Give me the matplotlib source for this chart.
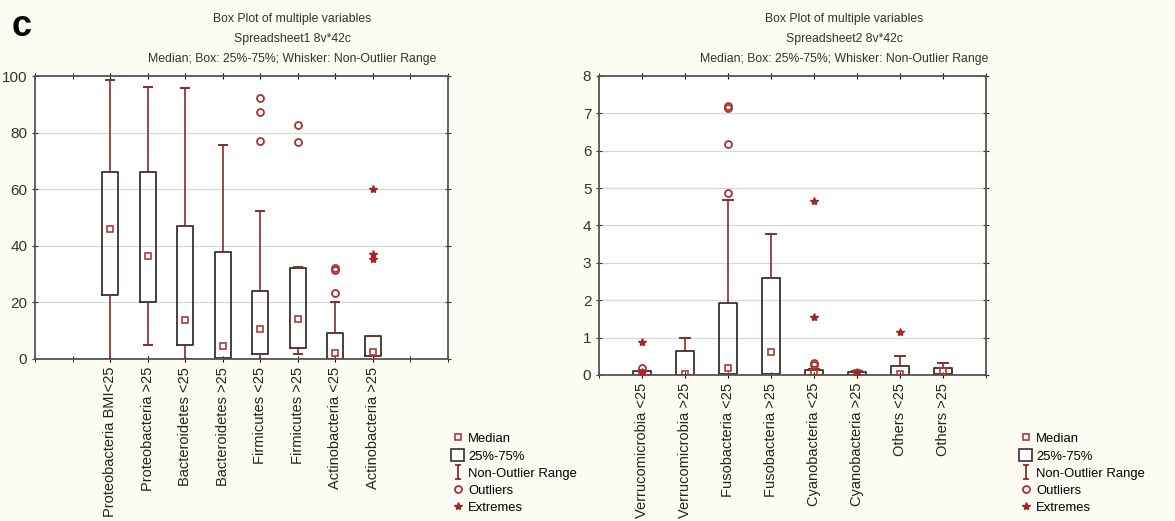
import matplotlib
matplotlib.use('Agg')
import matplotlib.pyplot as plt
from matplotlib.lines import Line2D
from matplotlib.patches import Rectangle
from matplotlib.path import Path

plt.rcParams['font.family'] = ['Liberation Sans', 'DejaVu Sans']

# ---- data, panel 1 (Spreadsheet1) ----
names1 = ['Proteobacteria BMI<25', 'Proteobacteria >25', 'Bacteroidetes <25', 'Bacteroidetes >25',
          'Firmicutes <25', 'Firmicutes >25', 'Actinobacteria <25', 'Actinobacteria >25']
med1 = [45.9, 36.4, 13.8, 4.6, 10.6, 14.1, 2.2, 2.4]
q1_1 = [22.6, 20.1, 4.9, 0.5, 1.8, 3.9, 0.0, 1.1]
q3_1 = [66.2, 66.2, 47.0, 37.8, 24.1, 32.3, 9.2, 8.1]
lo1 = [0.0, 4.9, 0.0, 0.0, 0.0, 1.6, 0.0, 1.1]
hi1 = [98.6, 96.2, 95.6, 75.7, 52.2, 32.5, 20.3, 8.1]
out1 = [[], [], [], [], [92.1, 87.3, 77.0], [82.6, 76.6], [32.1, 31.6, 23.2], []]
ext1 = [[], [], [], [], [], [], [], [60.2, 37.0, 35.3]]

# ---- data, panel 2 (Spreadsheet2) ----
names2 = ['Verrucomicrobia <25', 'Verrucomicrobia >25', 'Fusobacteria <25', 'Fusobacteria >25',
          'Cyanobacteria <25', 'Cyanobacteria >25', 'Others <25', 'Others >25']
med2 = [0.05, 0.02, 0.2, 0.61, 0.05, 0.05, 0.03, 0.1]
q1_2 = [0.0, 0.0, 0.02, 0.02, 0.0, 0.0, 0.0, 0.02]
q3_2 = [0.1, 0.64, 1.93, 2.6, 0.13, 0.08, 0.24, 0.2]
lo2 = [0.0, 0.0, 0.0, 0.0, 0.0, 0.0, 0.0, 0.0]
hi2 = [0.1, 0.98, 4.68, 3.76, 0.15, 0.12, 0.51, 0.31]
out2 = [[0.2], [], [4.86, 6.18, 7.2, 7.14], [], [0.31, 0.27], [], [], []]
ext2 = [[0.89, 0.08], [], [], [], [4.66, 1.56], [0.08], [1.16], []]

BG = '#fdfcf2'
RED = '#8b2a2a'
BOXC = '#3a3030'

fig = plt.figure(figsize=(11.75, 5.21), dpi=100, facecolor=BG)


def draw_panel(ax, names, med, q1, q3, lo, hi, outl, extr, xlim, ylim, yticks):
    stats = []
    for i in range(len(names)):
        stats.append(dict(med=med[i], q1=q1[i], q3=q3[i], whislo=lo[i], whishi=hi[i], fliers=[]))
    pos = list(range(1, len(names) + 1))
    ax.bxp(stats, positions=pos, widths=0.42, showfliers=False,
           boxprops=dict(color=BOXC, linewidth=1.3),
           whiskerprops=dict(color=RED, linewidth=1.2),
           capprops=dict(color=RED, linewidth=1.4),
           medianprops=dict(linestyle='none'), capwidths=0.22)
    ax.plot(pos, med, 's', mfc='none', mec='#b03a3a', ms=5, mew=1.2, zorder=4)
    for p, vals in zip(pos, outl):
        if vals:
            ax.plot([p] * len(vals), vals, 'o', mfc='none', mec='#a83232', ms=5, mew=1.3, zorder=4)
    for p, vals in zip(pos, extr):
        if vals:
            ax.plot([p] * len(vals), vals, '*', color='#a02828', ms=6, zorder=4)
    ax.set_xlim(*xlim)
    ax.set_ylim(*ylim)
    ax.set_yticks(yticks)
    ax.set_xticks(pos)
    ax.set_xticklabels(names, rotation=90, fontsize=10.5, color='#222222')
    ax.tick_params(axis='y', labelsize=11, colors='#333333', direction='inout', length=4, right=True)
    ax.tick_params(axis='x', direction='inout', length=4, top=True)
    ax.set_xticks(list(range(int(xlim[0]), int(xlim[1]) + 1)), minor=True)
    ax.tick_params(axis='x', which='minor', direction='inout', length=4, top=True, bottom=True)
    ax.grid(axis='y', color='#d8d8d8', linewidth=0.9)
    ax.set_axisbelow(True)
    for s in ax.spines.values():
        s.set_color('#555555')
        s.set_linewidth(1.3)
    ax.set_facecolor('white')


ax1 = fig.add_axes([35 / 1175, 1 - 359 / 521, 413 / 1175, 283 / 521])
draw_panel(ax1, names1, med1, q1_1, q3_1, lo1, hi1, out1, ext1, (-1, 10), (0, 100), [0, 20, 40, 60, 80, 100])

ax2 = fig.add_axes([599 / 1175, 1 - 375 / 521, 387 / 1175, 299 / 521])
draw_panel(ax2, names2, med2, q1_2, q3_2, lo2, hi2, out2, ext2, (0, 9), (0, 8), list(range(0, 9)))

# titles
for cx, sheet in [(292, 'Spreadsheet1 8v*42c'), (844, 'Spreadsheet2 8v*42c')]:
    fig.text(cx / 1175, 1 - 19 / 521, 'Box Plot of multiple variables', ha='center', va='center', fontsize=8.8, color='#333333')
    fig.text(cx / 1175, 1 - 39 / 521, sheet, ha='center', va='center', fontsize=8.8, color='#333333')
    fig.text(cx / 1175, 1 - 59 / 521, 'Median; Box: 25%-75%; Whisker: Non-Outlier Range', ha='center', va='center',
             fontsize=8.8, color='#333333')

fig.text(12 / 1175, 1 - 27 / 521, 'c', fontsize=26, fontweight='bold', va='center', ha='left')

# legends
ibeam = Path([(-0.5, 1), (0.5, 1), (0, 1), (0, -1), (-0.5, -1), (0.5, -1)],
             [Path.MOVETO, Path.LINETO, Path.MOVETO, Path.LINETO, Path.MOVETO, Path.LINETO])
handles = [
    Line2D([], [], marker='s', ls='none', mfc='none', mec='#b03a3a', ms=5, mew=1.2),
    Rectangle((0, 0), 1, 1, facecolor='white', edgecolor=BOXC, linewidth=1.2),
    Line2D([], [], marker=ibeam, ls='none', color=RED, ms=10, mew=1.3),
    Line2D([], [], marker='o', ls='none', mfc='none', mec='#a83232', ms=5, mew=1.3),
    Line2D([], [], marker='*', ls='none', color='#a02828', ms=6),
]
labels = ['Median', '25%-75%', 'Non-Outlier Range', 'Outliers', 'Extremes']
for lx in [451, 1019]:
    fig.legend(handles, labels, loc='upper left', bbox_to_anchor=(lx / 1175, 1 - 432 / 521),
               frameon=False, fontsize=9.4, handlelength=1.0, handleheight=1.0, handletextpad=0.3,
               labelspacing=0.3, borderpad=0, borderaxespad=0)

fig.savefig('out.png', dpi=100, facecolor=BG)
